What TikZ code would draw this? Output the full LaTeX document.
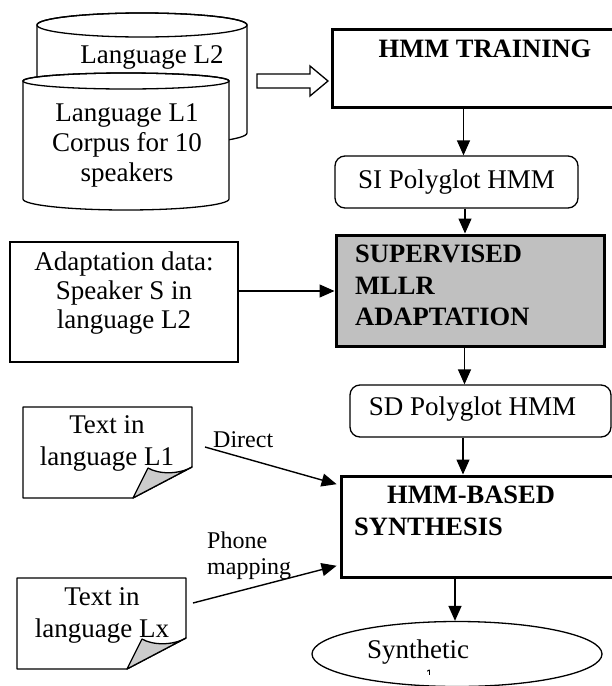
\documentclass[tikz,border=0pt]{standalone}
\usepackage{fontspec}
\setmainfont{Liberation Serif}
\usetikzlibrary{arrows.meta,shapes.geometric}
\definecolor{boxgray}{HTML}{C0C0C0}
\definecolor{flapgray}{HTML}{CCCCCC}
\tikzset{
  body/.style={font=\fontsize{27}{30}\selectfont, align=center, inner sep=0pt},
  pagetext/.style={font=\fontsize{27}{32}\selectfont, align=center, inner sep=0pt},
  heading/.style={font=\bfseries\fontsize{26.5}{31.5}\selectfont, align=left, inner sep=0pt},
  note/.style={font=\fontsize{24}{26}\selectfont, align=left, inner sep=0pt},
  thickbox/.style={draw, line width=3pt, inner sep=0pt},
  thinbox/.style={draw, line width=1.3pt, inner sep=0pt},
  roundbox/.style={draw, line width=1.3pt, rounded corners=10pt, inner sep=0pt},
  flow/.style={-{Triangle[length=15pt,width=13pt]}, line width=1.4pt},
  pics/page/.style={code={
    \draw[fill=white, line width=1.3pt, line join=round]
      (0,0) -- (169,0) -- (169,60) -- (110,91) -- (0,91) -- cycle;
    \draw[fill=flapgray, line width=1.3pt, line join=round]
      (169,60) .. controls (155,68) and (135,67) .. (125,61) -- (110,91) -- cycle;
  }},
}
\begin{document}
\begin{tikzpicture}[x=1pt, y=-1pt]
\useasboundingbox (0,0) rectangle (612,686);
\clip (0,0) rectangle (612,686);
\fill[white] (0,0) rectangle (612,686);

% two stacked corpus cylinders
\draw[fill=white, line width=1.3pt]
  (37,25) -- (37,133) arc[start angle=180, end angle=360, x radius=105pt, y radius=12pt]
  -- (247,25) arc[start angle=0, end angle=180, x radius=105pt, y radius=12pt] -- cycle;
\draw[line width=1.3pt] (142,25) ellipse [x radius=105pt, y radius=12pt];
\node[body] (l2) at (152,57) {Language L2};

\draw[fill=white, line width=1.3pt]
  (23,81) -- (23,199) arc[start angle=180, end angle=360, x radius=103pt, y radius=11pt]
  -- (229,81) arc[start angle=0, end angle=180, x radius=103pt, y radius=8pt] -- cycle;
\draw[line width=1.3pt] (126,81) ellipse [x radius=103pt, y radius=8pt];
\node[body] (corpus) at (127,145) {Language L1\\Corpus for 10\\speakers};

% hollow block arrow into training
\draw[line width=1.3pt, fill=white, line join=miter]
  (257,74) -- (310,74) -- (310,66) -- (328,81) -- (310,96) -- (310,88) -- (257,88) -- cycle;

% main processing chain
\node[thickbox, minimum width=308pt, minimum height=78pt] (train) at (486,68) {};
\node[heading] (traintxt) at (485,49) {HMM TRAINING};

\node[roundbox, minimum width=243pt, minimum height=52pt, body] (si) at (456.5,182) {SI Polyglot HMM};

\node[thickbox, fill=boxgray, minimum width=268pt, minimum height=111pt] (sup) at (470,290.5) {};
\node[heading, anchor=west] (suptxt) at (355,285.5) {SUPERVISED\\MLLR\\ADAPTATION};

\node[thinbox, minimum width=228pt, minimum height=120pt] (adapt) at (124,302) {};
\node[body, font=\fontsize{27}{29}\selectfont] (adapttxt) at (124,293) {Adaptation data:\\Speaker S in\\language L2};

\node[roundbox, minimum width=261pt, minimum height=52pt] (sd) at (480.5,411) {};
\node[body] (sdtxt) at (472.5,409) {SD Polyglot HMM};

\node[thickbox, minimum width=309pt, minimum height=101pt] (syn) at (495.5,526.5) {};
\node[heading, anchor=west] (syntxt) at (354,511) {\hspace*{33pt}HMM-BASED\\SYNTHESIS};

\node[draw, ellipse, line width=1.3pt, inner sep=0pt, minimum width=290pt, minimum height=65pt] (ell) at (457,654) {};
\node[body] (elltxt) at (418,652) {Synthetic};
% top of a second output line, hidden by the ellipse outline
\draw[line width=1.5pt] (429.5,669.5) -- (429.5,675);
\draw[line width=1pt] (427.3,671.2) -- (429.5,669.8);

% input texts
\pic at (23,407) {page};
\node[pagetext] (l1txt) at (107,443) {Text in\\language L1};
\pic at (17,578) {page};
\node[pagetext] (lxtxt) at (102,615) {Text in\\language Lx};

\node[note, anchor=base west] (direct) at (213,447) {Direct};
\node[note, anchor=west] (phone) at (207,556) {Phone\\mapping};

\coordinate (d0) at (205,447);
\coordinate (p0) at (193,603);

% connectors
\draw[flow] ([xshift=7pt]si.north |- train.south) -- ([xshift=7pt]si.north);
\draw[flow] ([xshift=-5pt]sup.north |- si.south) -- ([xshift=-5pt]sup.north);
\draw[flow] ([yshift=11pt]adapt.east) -- ([yshift=11pt]adapt.east -| sup.west);
\draw[flow] ([xshift=-16pt]sd.north |- sup.south) -- ([xshift=-16pt]sd.north);
\draw[flow] ([xshift=-32.5pt]syn.north |- sd.south) -- ([xshift=-32.5pt]syn.north);
\draw[flow] ([xshift=-2pt]ell.north |- syn.south) -- ([xshift=-2pt]ell.north);
\draw[flow, shorten >=3pt] (d0) -- ([yshift=41.5pt]syn.west);
\draw[flow, shorten >=3pt] (p0) -- ([yshift=-38.5pt]syn.west);
\end{tikzpicture}
\end{document}
